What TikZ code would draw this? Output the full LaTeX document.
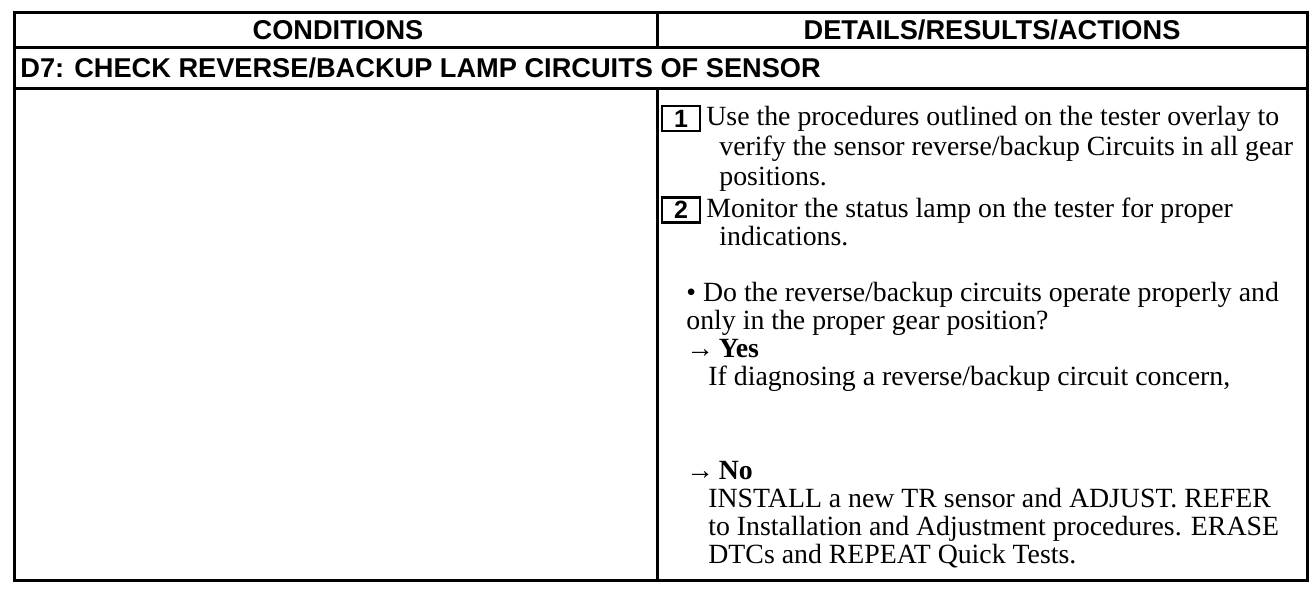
\documentclass[tikz,border=0pt]{standalone}
\usepackage{fontspec}
\setmainfont{Liberation Serif}
\setsansfont{Liberation Sans}
\begin{document}
\begin{tikzpicture}[x=0.5pt,y=-0.5pt,
  frame/.style={line width=1.5pt,line cap=rect},
  head/.style={font=\sffamily\bfseries\fontsize{13.6}{15}\selectfont,inner sep=0pt},
  body/.style={font=\fontsize{13.9}{14.5}\selectfont,inner sep=0pt,anchor=base west},
  numbox/.style={draw,line width=1.1pt,minimum width=19pt,minimum height=12.5pt,inner sep=0pt,font=\sffamily\bfseries\fontsize{12.5}{13}\selectfont}
]
\useasboundingbox (0,0) rectangle (1312,600);
% frame
\draw[frame] (14,12) rectangle (1307,580);
\draw[frame] (14,47) -- (1307,47);
\draw[frame] (14,88) -- (1307,88);
\draw[frame] (657,12) -- (657,47);
\draw[frame] (657,88) -- (657,580);
% header texts
\node[head] (hc) at (338,30) {CONDITIONS};
\node[head] (hd) at (992,30) {DETAILS/RESULTS/ACTIONS};
\node[head,anchor=west] (d7) at (20,68) {D7: CHECK REVERSE/BACKUP LAMP CIRCUITS OF SENSOR};
% number boxes
\node[numbox] (n1) at (681,118.5) {1};
\node[numbox] (n2) at (681,210) {2};
% body
\node[body] (l1) at (706,125) {Use the procedures outlined on the tester overlay to};
\node[body] (l2) at (719,155) {verify the sensor reverse/backup Circuits in all gear};
\node[body] (l3) at (719,185) {positions.};
\node[body] (l4) at (706,217) {Monitor the status lamp on the tester for proper};
\node[body] (l5) at (719,245) {indications.};
\node[body] (l6) at (686,301) {• Do the reverse/backup circuits operate properly and};
\node[body] (l7) at (686,329) {only in the proper gear position?};
\node[body] (l8) at (686,357) {→\,\textbf{Yes}};
\node[body] (l9) at (708,385) {If diagnosing a reverse/backup circuit concern,};
\node[body] (l10) at (686,479) {→\,\textbf{No}};
\node[body] (l11) at (708,507) {INSTALL a new TR sensor and ADJUST. REFER};
\node[body] (l12) at (708,535) {to Installation and Adjustment procedures. ERASE};
\node[body] (l13) at (708,563) {DTCs and REPEAT Quick Tests.};
\end{tikzpicture}
\end{document}
